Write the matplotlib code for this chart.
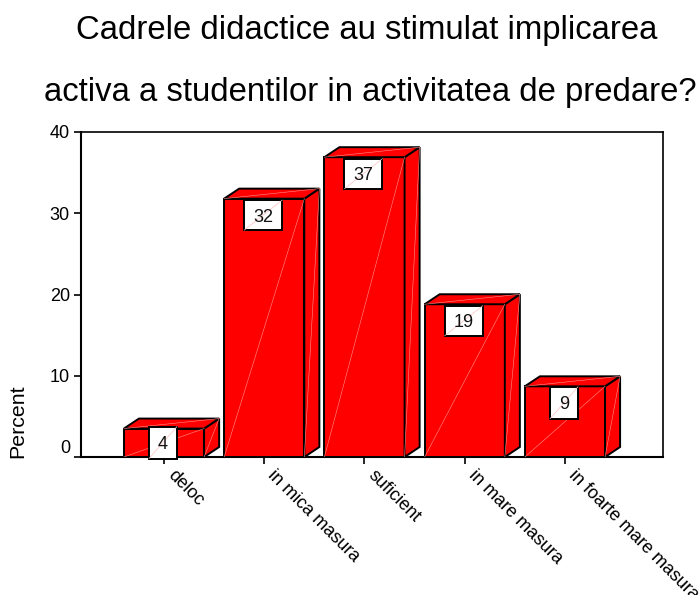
import matplotlib
matplotlib.use("Agg")
import matplotlib.pyplot as plt
from matplotlib.patches import Polygon, Rectangle
from matplotlib.transforms import ScaledTranslation

categories = ["deloc", "in mica masura", "suficient", "in mare masura", "in foarte mare masura"]
bar_heights = [3.5, 31.8, 36.9, 18.8, 8.7]
value_labels = ["4", "32", "37", "19", "9"]
y_ticks = [0, 10, 20, 30, 40]

W, H = 700, 595
plt.rcParams["font.family"] = ["Liberation Sans", "DejaVu Sans"]
fig = plt.figure(figsize=(W / 100, H / 100), dpi=100)
ax = fig.add_axes([81 / W, 1 - 457 / H, (663 - 81) / W, (457 - 132) / H])
ax.set_xlim(-0.828, 4.978)
ax.set_ylim(0, 40)

bar_w = 0.80
dx, dy = 0.15, 1.23
edge = dict(edgecolor="black", linewidth=1.4, joinstyle="miter")
diag = dict(color="#ff9090", linewidth=0.4, zorder=3.5)

for i, (h, lab) in enumerate(zip(bar_heights, value_labels)):
    l, r = i - bar_w / 2, i + bar_w / 2
    ax.bar(i, h, width=bar_w, color="#ff0000", zorder=3, **edge)
    ax.add_patch(Polygon([(r, 0), (r + dx, dy), (r + dx, h + dy), (r, h)], closed=True,
                         facecolor="#ff0000", zorder=3, **edge))
    ax.add_patch(Polygon([(l, h), (l + dx, h + dy), (r + dx, h + dy), (r, h)], closed=True,
                         facecolor="#ff0000", zorder=3, **edge))
    ax.plot([l, r], [0, h], **diag)
    ax.plot([r, r + dx], [0, h + dy], **diag)
    ax.plot([l, r + dx], [h, h + dy], **diag)

    # value label box, sized in inches and anchored at the bar top
    bw, bh = (0.38, 0.30) if len(lab) == 2 else (0.28, 0.32)
    cy = -0.165 if i else -0.14
    anchor = fig.dpi_scale_trans + ScaledTranslation(i, h, ax.transData)
    ax.add_patch(Rectangle((-0.01 - bw / 2, cy - bh / 2), bw, bh, transform=anchor,
                           facecolor="white", edgecolor="black", linewidth=1.4,
                           zorder=5, clip_on=False))
    ax.plot([-0.01 - bw / 2, -0.01 + bw / 2], [cy - bh / 2, cy + bh / 2], transform=anchor,
            color="#ffc0c0", linewidth=0.5, zorder=5.5, clip_on=False)
    ax.text(-0.01, cy, lab, transform=anchor, ha="center", va="center_baseline",
            fontsize=13, color="#111111", zorder=6, clip_on=False)

ax.set_xticks(range(len(categories)))
ax.set_xticklabels(categories, rotation=-45, ha="left", va="top",
                   rotation_mode="anchor", fontsize=13, clip_on=False)
ax.set_yticks(y_ticks)
ax.tick_params(axis="both", length=5, width=1.2, pad=3)
ax.tick_params(axis="y", labelsize=13)
ax.tick_params(axis="x", pad=2)
ax.get_yticklabels()[0].set_va("bottom")
shift = ScaledTranslation(12 / 100, 0, fig.dpi_scale_trans)
for t in ax.get_xticklabels():
    t.set_transform(t.get_transform() + shift)

ax.spines["left"].set_linewidth(1.5)
ax.spines["bottom"].set_linewidth(1.5)
ax.spines["top"].set_linewidth(1.2)
ax.spines["right"].set_linewidth(1.2)

fig.text(18 / W, 1 - 421 / H, "Percent", rotation=90, ha="center", va="center", fontsize=15.4)
fig.text(367 / W, 1 - 30 / H, "Cadrele didactice au stimulat implicarea", ha="center",
         va="center", fontsize=23.7)
fig.text(370 / W, 1 - 92 / H, "activa a studentilor in activitatea de predare?", ha="center",
         va="center", fontsize=23.7)

fig.savefig("out.png", dpi=100)
